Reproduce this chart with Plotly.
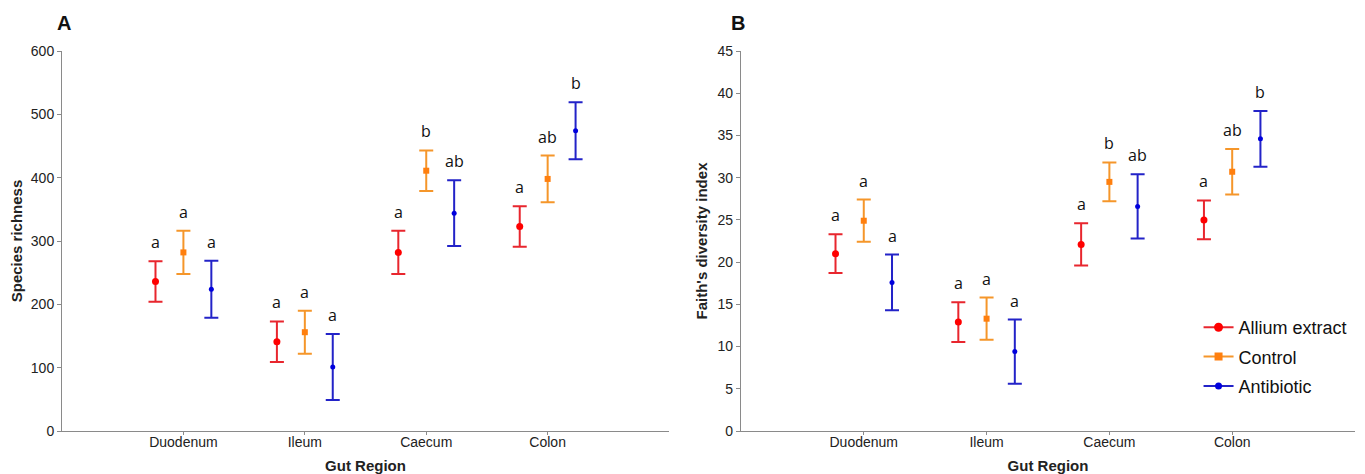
import plotly.graph_objects as go

categories = ["Duodenum", "Ileum", "Caecum", "Colon"]
groups = ["Allium extract", "Control", "Antibiotic"]

# Panel A: species richness (mean, error)
rich_allium = [236, 141, 282, 323]
rich_allium_err = [32, 32, 34, 32]
rich_control = [282, 156, 411, 398]
rich_control_err = [34, 34, 32, 37]
rich_antibiotic = [224, 101, 344, 474]
rich_antibiotic_err = [45, 52, 52, 45]

# Panel B: Faith's diversity index (mean, error)
faith_allium = [21.0, 12.9, 22.1, 25.0]
faith_allium_err = [2.3, 2.35, 2.5, 2.3]
faith_control = [24.9, 13.3, 29.5, 30.7]
faith_control_err = [2.5, 2.5, 2.3, 2.7]
faith_antibiotic = [17.6, 9.4, 26.6, 34.6]
faith_antibiotic_err = [3.3, 3.8, 3.8, 3.3]

# significance letters
letters_allium = ["a", "a", "a", "a"]
letters_control = ["a", "a", "b", "ab"]
letters_antibiotic = ["a", "a", "ab", "b"]

styles = {
    "Allium extract": dict(marker="#ff0000", bar="#e8262e", symbol="circle", size=7, off=-0.23),
    "Control": dict(marker="#ff7f0e", bar="#f5962a", symbol="square", size=6, off=0.0),
    "Antibiotic": dict(marker="#0000dd", bar="#2323c8", symbol="circle", size=5, off=0.23),
}

fig = go.Figure()

panel_data = [
    ("x", "y", [rich_allium, rich_control, rich_antibiotic],
     [rich_allium_err, rich_control_err, rich_antibiotic_err]),
    ("x2", "y2", [faith_allium, faith_control, faith_antibiotic],
     [faith_allium_err, faith_control_err, faith_antibiotic_err]),
]
letters = [letters_allium, letters_control, letters_antibiotic]

for xa, ya, means, errs in panel_data:
    for g, m, e, lt in zip(groups, means, errs, letters):
        s = styles[g]
        xs = [i + s["off"] for i in range(len(categories))]
        fig.add_trace(go.Scatter(
            x=xs, y=m, mode="markers", xaxis=xa, yaxis=ya, showlegend=False,
            marker=dict(color=s["marker"], symbol=s["symbol"], size=s["size"]),
            error_y=dict(type="data", array=e, visible=True, color=s["bar"],
                         thickness=2, width=7),
        ))
        for xi, mi, ei, li in zip(xs, m, e, lt):
            fig.add_annotation(x=xi, y=mi + ei, xref=xa, yref=ya, text=li,
                               showarrow=False, yanchor="middle", yshift=19,
                               font=dict(family="Open Sans, sans-serif", size=16, color="#111"))

# legend entries (panel B)
for i, g in enumerate(groups):
    s = styles[g]
    fig.add_trace(go.Scatter(
        x=[None], y=[None], mode="lines+markers", name=g, xaxis="x2", yaxis="y2",
        legendgroup=g,
        line=dict(color=s["bar"], width=2),
        marker=dict(color=s["marker"], symbol=s["symbol"], size=s["size"] + 2),
    ))

axis_common = dict(showgrid=False, zeroline=False, showline=True, linecolor="#8a8a8a",
                   linewidth=1, ticks="outside", ticklen=4, tickcolor="#8a8a8a",
                   tickfont=dict(family="Liberation Sans, Arial, sans-serif", size=14, color="#222"),
                   mirror=False, automargin=False)

xcommon = dict(axis_common, range=[-1, 4], tickmode="array", tickvals=list(range(len(categories))),
               ticktext=categories, ticklen=3, ticklabelstandoff=-5,
               title=dict(text="<b>Gut Region</b>", standoff=11,
                          font=dict(family="Liberation Sans, Arial, sans-serif", size=15, color="#222")))

fig.update_layout(
    width=1357, height=466,
    paper_bgcolor="white", plot_bgcolor="white",
    margin=dict(l=54, r=10, t=43, b=43, autoexpand=False),
    xaxis=dict(xcommon, domain=[0, 0.4695], anchor="y"),
    xaxis2=dict(xcommon, domain=[0.5251, 1], anchor="y2"),
    yaxis=dict(axis_common, range=[0, 600], dtick=100, anchor="x",
               title=dict(text="<b>Species richness</b>", standoff=6,
                          font=dict(family="Liberation Sans, Arial, sans-serif", size=15, color="#222"))),
    yaxis2=dict(axis_common, range=[0, 45], dtick=5, anchor="x2",
                title=dict(text="<b>Faith's diversity index</b>", standoff=6,
                           font=dict(family="Liberation Sans, Arial, sans-serif", size=15, color="#222"))),
    legend=dict(x=0.879, y=0.321, xanchor="left", yanchor="top", bgcolor="rgba(0,0,0,0)",
                font=dict(family="Liberation Sans, Arial, sans-serif", size=18, color="#111"),
                tracegroupgap=3, itemwidth=30),
    showlegend=True,
)

fig.add_annotation(x=-0.0054, y=1.075, xref="paper", yref="paper", text="<b>A</b>", showarrow=False,
                   xanchor="left", yanchor="middle",
                   font=dict(family="Liberation Sans, Arial, sans-serif", size=20, color="#111"))
fig.add_annotation(x=0.516, y=1.075, xref="paper", yref="paper", text="<b>B</b>", showarrow=False,
                   xanchor="left", yanchor="middle",
                   font=dict(family="Liberation Sans, Arial, sans-serif", size=20, color="#111"))

fig.write_html("out.html")
